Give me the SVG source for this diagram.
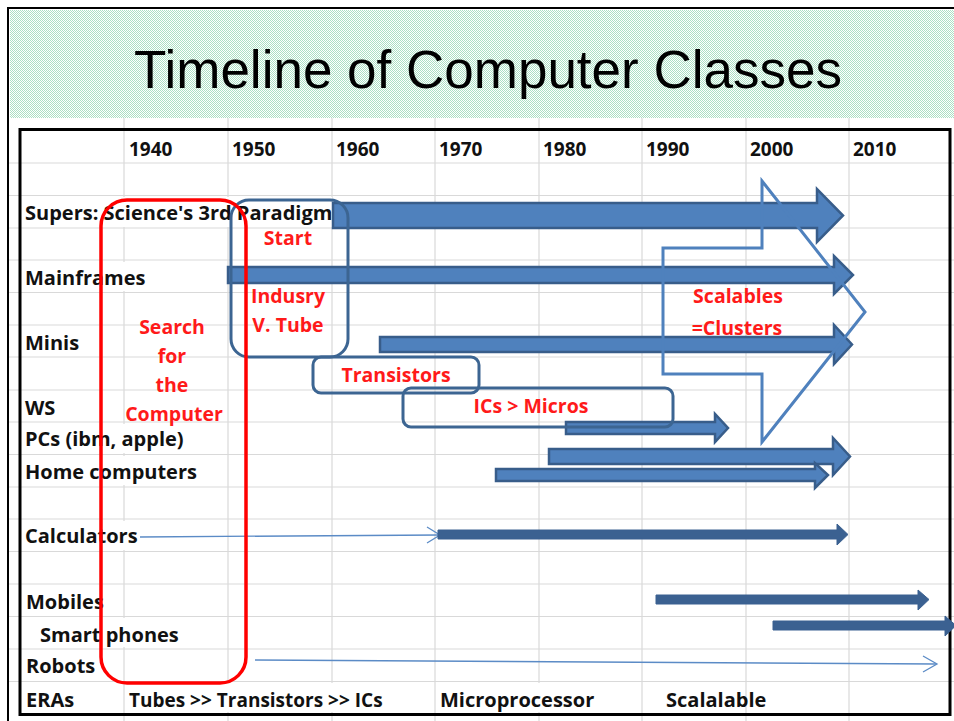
<svg xmlns="http://www.w3.org/2000/svg" width="954" height="721" viewBox="0 0 954 721">
  <defs>
    <pattern id="dots" width="2" height="2" patternUnits="userSpaceOnUse">
      <rect width="2" height="2" fill="#ffffff"/>
      <rect x="0" y="0" width="1" height="1" fill="#abe0c4"/>
      <rect x="1" y="1" width="1" height="1" fill="#abe0c4"/>
    </pattern>
    <style>
      .grid line { stroke: #d9d9d9; stroke-width: 1.2; }
      .lbl { font-family: "Open Sans", "Liberation Sans", sans-serif; font-weight: bold; font-size: 20px; fill: #111111; }
      .yr { font-family: "Open Sans", "Liberation Sans", sans-serif; font-weight: bold; font-size: 19px; fill: #111111; }
      .red { font-family: "Open Sans", "Liberation Sans", sans-serif; font-weight: bold; font-size: 19.5px; fill: #ff1a1a; text-anchor: middle; }
      .thick { fill: #4f81bd; stroke: #385d8a; stroke-width: 2.5; stroke-linejoin: miter; }
      .dark { fill: #3b6191; stroke: #3b6191; stroke-width: 1; }
      .thin { fill: none; stroke: #5b8bc6; stroke-width: 1.3; }
      .box { fill: none; stroke: #3c6592; stroke-width: 3; }
      .cover { fill: #ffffff; }
    </style>
  </defs>

  <rect width="954" height="721" fill="#ffffff"/>

  <!-- title banner -->
  <g id="title">
    <rect x="10" y="10" width="944" height="108" fill="url(#dots)"/>
    <text x="488" y="88" font-family="'Liberation Sans', Arial, sans-serif" font-size="53" text-anchor="middle" fill="#000000">Timeline of Computer Classes</text>
  </g>

  <!-- spreadsheet grid -->
  <g class="grid">
    <line x1="124" y1="118" x2="124" y2="721"/>
    <line x1="228" y1="118" x2="228" y2="721"/>
    <line x1="332" y1="118" x2="332" y2="721"/>
    <line x1="435" y1="118" x2="435" y2="721"/>
    <line x1="539" y1="118" x2="539" y2="721"/>
    <line x1="642" y1="118" x2="642" y2="721"/>
    <line x1="746" y1="118" x2="746" y2="721"/>
    <line x1="849" y1="118" x2="849" y2="721"/>
    <line x1="8" y1="163" x2="954" y2="163"/>
    <line x1="8" y1="195.5" x2="954" y2="195.5"/>
    <line x1="8" y1="228" x2="954" y2="228"/>
    <line x1="8" y1="260" x2="954" y2="260"/>
    <line x1="8" y1="292.5" x2="954" y2="292.5"/>
    <line x1="8" y1="325" x2="954" y2="325"/>
    <line x1="8" y1="357" x2="954" y2="357"/>
    <line x1="8" y1="390" x2="954" y2="390"/>
    <line x1="8" y1="422" x2="954" y2="422"/>
    <line x1="8" y1="454.5" x2="954" y2="454.5"/>
    <line x1="8" y1="487" x2="954" y2="487"/>
    <line x1="8" y1="519" x2="954" y2="519"/>
    <line x1="8" y1="551.5" x2="954" y2="551.5"/>
    <line x1="8" y1="584" x2="954" y2="584"/>
    <line x1="8" y1="616.5" x2="954" y2="616.5"/>
    <line x1="8" y1="649" x2="954" y2="649"/>
    <line x1="8" y1="681.5" x2="954" y2="681.5"/>
  </g>

  <!-- frames -->
  <rect x="8" y="8" width="960" height="730" fill="none" stroke="#000000" stroke-width="2"/>
  <rect x="20" y="129.5" width="930" height="585" fill="none" stroke="#000000" stroke-width="3"/>

  <!-- year header -->
  <g id="years" class="yr">
    <text x="129" y="156">1940</text>
    <text x="232" y="156">1950</text>
    <text x="336" y="156">1960</text>
    <text x="439" y="156">1970</text>
    <text x="543" y="156">1980</text>
    <text x="646" y="156">1990</text>
    <text x="750" y="156">2000</text>
    <text x="853" y="156">2010</text>
  </g>

  <!-- row labels -->
  <g id="row-supers">
    <rect class="cover" x="22" y="197" width="310" height="30"/>
    <text class="lbl" x="25" y="220">Supers: Science's 3rd Paradigm</text>
  </g>
  <g id="row-mainframes">
    <rect class="cover" x="22" y="262" width="126" height="29"/>
    <text class="lbl" x="25" y="285">Mainframes</text>
  </g>
  <g id="row-minis"><text class="lbl" x="25" y="350">Minis</text></g>
  <g id="row-ws"><text class="lbl" x="25" y="415">WS</text></g>
  <g id="row-pcs">
    <rect class="cover" x="22" y="424" width="172" height="29"/>
    <text class="lbl" x="25" y="446">PCs (ibm, apple)</text>
  </g>
  <g id="row-home">
    <rect class="cover" x="22" y="456" width="178" height="29"/>
    <text class="lbl" x="25" y="479">Home computers</text>
  </g>
  <g id="row-calculators">
    <rect class="cover" x="22" y="521" width="118" height="29"/>
    <text class="lbl" x="25" y="543">Calculators</text>
  </g>
  <g id="row-mobiles"><text class="lbl" x="26" y="609">Mobiles</text></g>
  <g id="row-smartphones">
    <rect class="cover" x="22" y="618" width="160" height="29"/>
    <text class="lbl" x="40" y="642">Smart phones</text>
  </g>
  <g id="row-robots"><text class="lbl" x="26" y="673">Robots</text></g>
  <g id="row-eras">
    <rect class="cover" x="126" y="683" width="264" height="29"/>
    <rect class="cover" x="437" y="683" width="160" height="29"/>
    <text class="lbl" x="26" y="707">ERAs</text>
    <text class="yr" x="129" y="707">Tubes &gt;&gt; Transistors &gt;&gt; ICs</text>
    <text class="lbl" x="440" y="707">Microprocessor</text>
    <text class="lbl" x="666" y="707">Scalalable</text>
  </g>

  <!-- timeline arrows -->
  <g id="connectors">
    <polygon class="thick" points="333,203 817,203 817,189 843,215.5 817,242 817,228 333,228"/>
    <polygon class="thick" points="228,267 834,267 834,256 853,275 834,294 834,283 228,283"/>
    <polygon class="thick" points="380,337 834,337 834,325 852,344.5 834,364 834,352 380,352"/>
    <polygon class="thick" points="566,422 715,422 715,414 728,428 715,442 715,434 566,434"/>
    <polygon class="thick" points="549,449 833,449 833,438 850,456.5 833,475 833,464 549,464"/>
    <polygon class="thick" points="496,469 815,469 815,463 828,475 815,488 815,481 496,481"/>
    <line class="thin" x1="140" y1="537" x2="439" y2="535"/>
    <polyline class="thin" points="427,527 440,535 427,543"/>
    <polygon class="dark" points="438,530 837,530 837,524 848,534.5 837,545 837,539 438,539"/>
    <polygon class="dark" points="656,595 918,595 918,590 929,599.5 918,610 918,604 656,604"/>
    <polygon class="dark" points="773,621 945,621 945,616 956,625.5 945,636 945,630 773,630"/>
    <line class="thin" x1="255" y1="660" x2="936" y2="664"/>
    <polyline class="thin" points="923,656 937,664 923,672"/>
  </g>

  <!-- scalable clusters outline arrow -->
  <g id="scalables">
    <polygon points="663,248 762,248 762,181 865,312 762,442 762,374 663,374" fill="none" stroke="#4f81bd" stroke-width="3" stroke-linejoin="miter"/>
    <text class="red" x="738" y="303">Scalables</text>
    <text class="red" x="737" y="335">=Clusters</text>
  </g>

  <!-- era boxes -->
  <g id="start-box">
    <rect class="box" x="231" y="200" width="117" height="157" rx="18"/>
    <text class="red" x="288" y="245">Start</text>
    <text class="red" x="288" y="303">Indusry</text>
    <text class="red" x="288" y="332">V. Tube</text>
  </g>
  <g id="transistors-box">
    <rect class="box" x="313" y="357" width="166" height="36" rx="8"/>
    <text class="red" x="396" y="382">Transistors</text>
  </g>
  <g id="ics-box">
    <rect class="box" x="403" y="388" width="270" height="39" rx="8"/>
    <text class="red" x="531" y="413">ICs &gt; Micros</text>
  </g>
  <g id="search-box">
    <rect x="101" y="200" width="145" height="483" rx="26" fill="none" stroke="#ff0000" stroke-width="3.5"/>
    <text class="red" x="172" y="334">Search</text>
    <text class="red" x="172" y="363">for</text>
    <text class="red" x="172" y="392">the</text>
    <text class="red" x="174" y="421">Computer</text>
  </g>
</svg>
